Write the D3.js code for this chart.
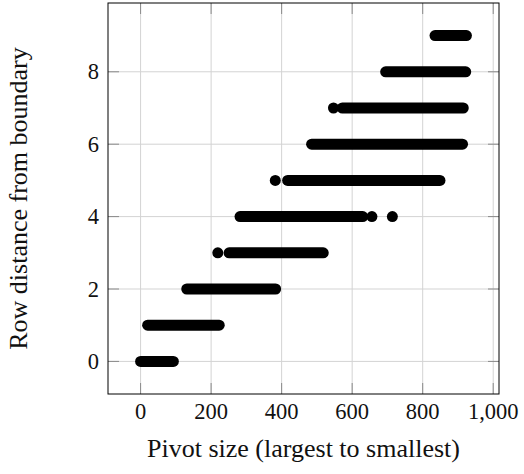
<!DOCTYPE html>
<html>
<head>
<meta charset="utf-8">
<script src="https://cdn.jsdelivr.net/npm/d3@7"></script>
<style>
  body { margin: 0; background: #fff; }
  text { font-family: "Liberation Serif", "DejaVu Serif", serif; fill: #111; }
</style>
</head>
<body>
<svg id="chart" width="524" height="474"></svg>
<script>
// dense runs of pivots: [level, first pivot, last pivot]
const runs = [
    [0, 0, 93],
    [1, 20, 223],
    [2, 131, 383],
    [3, 251, 518],
    [4, 282, 630],
    [5, 417, 849],
    [6, 485, 913],
    [7, 572, 915],
    [8, 695, 922],
    [9, 835, 924]
];
// isolated pivots: [pivot, level]
const singles = [
    [219, 3],
    [656, 4],
    [714, 4],
    [382, 5],
    [547, 7]
];
const xTicks = [0, 200, 400, 600, 800, 1000];
const yTicks = [0, 2, 4, 6, 8];

const svg = d3.select("#chart");
const margin = {top: 3, right: 25, bottom: 80, left: 108};
const W = 524, H = 474;

const x = d3.scaleLinear().domain([-92.4, 1016.4]).range([margin.left, W - margin.right]);
const y = d3.scaleLinear().domain([-0.9, 9.9]).range([H - margin.bottom, margin.top]);

// grid
svg.append("g").selectAll("line").data(xTicks).join("line")
    .attr("x1", d => x(d)).attr("x2", d => x(d))
    .attr("y1", margin.top).attr("y2", H - margin.bottom)
    .attr("stroke", "#d3d3d3").attr("stroke-width", 1);
svg.append("g").selectAll("line").data(yTicks).join("line")
    .attr("y1", d => y(d)).attr("y2", d => y(d))
    .attr("x1", margin.left).attr("x2", W - margin.right)
    .attr("stroke", "#d3d3d3").attr("stroke-width", 1);

// inner ticks on all four sides
const tk = 11;
const ticks = svg.append("g").attr("stroke", "#8a8a8a").attr("stroke-width", 1);
xTicks.forEach(d => {
    ticks.append("line").attr("x1", x(d)).attr("x2", x(d)).attr("y1", H - margin.bottom).attr("y2", H - margin.bottom - tk);
    ticks.append("line").attr("x1", x(d)).attr("x2", x(d)).attr("y1", margin.top).attr("y2", margin.top + tk);
});
yTicks.forEach(d => {
    ticks.append("line").attr("y1", y(d)).attr("y2", y(d)).attr("x1", margin.left).attr("x2", margin.left + tk);
    ticks.append("line").attr("y1", y(d)).attr("y2", y(d)).attr("x1", W - margin.right).attr("x2", W - margin.right - tk);
});

// marks
const r = 5.5;
svg.append("g").selectAll("line").data(runs).join("line")
    .attr("x1", d => x(d[1])).attr("x2", d => x(d[2]))
    .attr("y1", d => y(d[0])).attr("y2", d => y(d[0]))
    .attr("stroke", "#000").attr("stroke-width", 2 * r).attr("stroke-linecap", "round");
svg.append("g").selectAll("circle").data(singles).join("circle")
    .attr("cx", d => x(d[0])).attr("cy", d => y(d[1])).attr("r", r).attr("fill", "#000");

// frame
svg.append("rect")
    .attr("x", margin.left).attr("y", margin.top)
    .attr("width", W - margin.left - margin.right).attr("height", H - margin.top - margin.bottom)
    .attr("fill", "none").attr("stroke", "#000").attr("stroke-width", 1);

// tick labels
svg.append("g").selectAll("text").data(xTicks).join("text")
    .attr("x", d => x(d)).attr("y", 419)
    .attr("text-anchor", "middle").attr("font-size", 22.5)
    .text(d3.format(","));
svg.append("g").selectAll("text").data(yTicks).join("text")
    .attr("x", 99).attr("y", d => y(d) + 7.5)
    .attr("text-anchor", "end").attr("font-size", 22.5)
    .text(d => d);

// axis titles
svg.append("text")
    .attr("x", (margin.left + W - margin.right) / 2).attr("y", 457)
    .attr("text-anchor", "middle").attr("font-size", 26)
    .text("Pivot size (largest to smallest)");
svg.append("text")
    .attr("transform", `translate(27,${(margin.top + H - margin.bottom) / 2}) rotate(-90)`)
    .attr("text-anchor", "middle").attr("font-size", 26)
    .text("Row distance from boundary");
</script>
</body>
</html>
